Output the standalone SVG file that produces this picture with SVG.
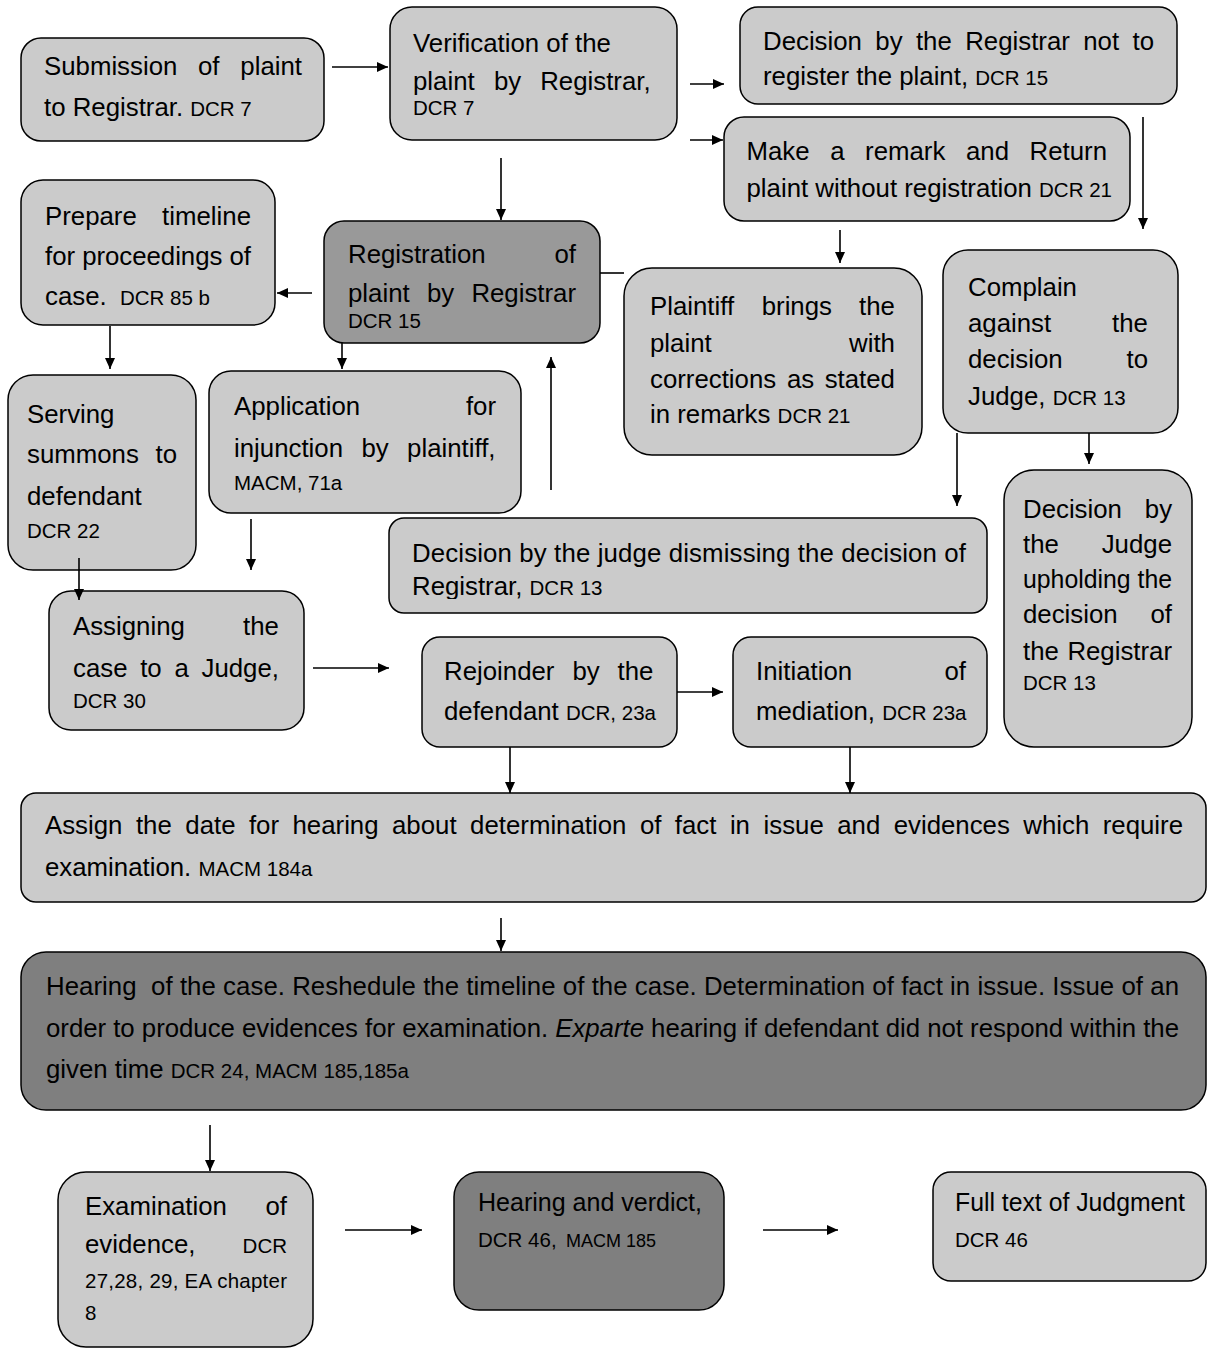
<svg xmlns="http://www.w3.org/2000/svg" width="1208" height="1349" viewBox="0 0 1208 1349">
<defs>
<style>
.box{fill:#cbcbcb;stroke:#000;stroke-width:1.5}
.mid{fill:#999999}
.dark{fill:#7f7f7f}
text{font-family:"Liberation Sans",Arial,sans-serif;font-size:25.8px;fill:#000}
.s{font-size:20.5px}
.xs{font-size:18px}
.c line{stroke:#000;stroke-width:1.6;fill:none}
</style>
<marker id="ah" markerUnits="userSpaceOnUse" markerWidth="11" markerHeight="10" refX="11" refY="5" orient="auto">
<path d="M0,0 L11,5 L0,10 z" fill="#000"/>
</marker>
<clipPath id="clipN12"><rect x="389" y="518" width="598" height="81"/></clipPath>
</defs>

<g id="n1">
<rect class="box" x="21" y="38" width="303" height="103" rx="20"/>
<text y="75"><tspan x="44">Submission</tspan><tspan x="198">of</tspan><tspan x="240.3">plaint</tspan></text>
<text x="44" y="116">to Registrar. <tspan class="s">DCR 7</tspan></text>
</g>

<g id="n2">
<rect class="box" x="390" y="7" width="287" height="133" rx="22"/>
<text x="413" y="52">Verification of the</text>
<text y="90"><tspan x="413">plaint</tspan><tspan x="493.9">by</tspan><tspan x="540.2">Registrar,</tspan></text>
<text class="s" x="413" y="115">DCR 7</text>
</g>

<g id="n3">
<rect class="box" x="740" y="7" width="437" height="97" rx="18"/>
<text y="50"><tspan x="763">Decision</tspan><tspan x="875.3">by</tspan><tspan x="915.9">the</tspan><tspan x="965.2">Registrar</tspan><tspan x="1083.2">not</tspan><tspan x="1132.5">to</tspan></text>
<text x="763" y="85">register the plaint, <tspan class="s">DCR 15</tspan></text>
</g>

<g id="n4">
<rect class="box" x="724" y="117" width="406" height="104" rx="20"/>
<text y="160"><tspan x="746.5">Make</tspan><tspan x="830.2">a</tspan><tspan x="865.1">remark</tspan><tspan x="966">and</tspan><tspan x="1029.6">Return</tspan></text>
<text x="746.5" y="197">plaint without registration <tspan class="s">DCR 21</tspan></text>
</g>

<g id="n5">
<rect class="box" x="624" y="268" width="298" height="187" rx="28"/>
<text y="315"><tspan x="650">Plaintiff</tspan><tspan x="761.7">brings</tspan><tspan x="859.1">the</tspan></text>
<text y="352"><tspan x="650">plaint</tspan><tspan x="849.1">with</tspan></text>
<text y="388"><tspan x="650">corrections</tspan><tspan x="786.9">as</tspan><tspan x="824.7">stated</tspan></text>
<text x="650" y="423">in remarks <tspan class="s">DCR 21</tspan></text>
</g>

<g id="n6">
<rect class="box" x="943" y="250" width="235" height="183" rx="25"/>
<text x="968" y="296">Complain</text>
<text y="332"><tspan x="968">against</tspan><tspan x="1112.1">the</tspan></text>
<text y="368"><tspan x="968">decision</tspan><tspan x="1126.5">to</tspan></text>
<text x="968" y="405">Judge, <tspan class="s">DCR 13</tspan></text>
</g>

<g id="n7">
<rect class="box" x="21" y="180" width="254" height="145" rx="22"/>
<text y="225"><tspan x="45">Prepare</tspan><tspan x="162.1">timeline</tspan></text>
<text x="45" y="265" textLength="206" lengthAdjust="spacing">for proceedings of</text>
<text x="45" y="305">case. <tspan class="s" x="120">DCR 85 b</tspan></text>
</g>

<g id="n8">
<rect class="box mid" x="324" y="221" width="276" height="122" rx="20"/>
<text y="263"><tspan x="348">Registration</tspan><tspan x="554.5">of</tspan></text>
<text y="302"><tspan x="348">plaint</tspan><tspan x="427">by</tspan><tspan x="471.4">Registrar</tspan></text>
<text class="s" x="348" y="328">DCR 15</text>
</g>

<g id="n9">
<rect class="box" x="8" y="375" width="188" height="195" rx="25"/>
<text x="27" y="423">Serving</text>
<text y="463"><tspan x="27">summons</tspan><tspan x="155.5">to</tspan></text>
<text x="27" y="505">defendant</text>
<text class="s" x="27" y="538">DCR 22</text>
</g>

<g id="n10">
<rect class="box" x="209" y="371" width="312" height="142" rx="22"/>
<text y="415"><tspan x="234">Application</tspan><tspan x="465.9">for</tspan></text>
<text y="457"><tspan x="234">injunction</tspan><tspan x="361.5">by</tspan><tspan x="407.1">plaintiff,</tspan></text>
<text class="s" x="234" y="490">MACM, 71a</text>
</g>

<g id="n11">
<rect class="box" x="49" y="591" width="255" height="139" rx="22"/>
<text y="635"><tspan x="73">Assigning</tspan><tspan x="243.1">the</tspan></text>
<text y="677"><tspan x="73">case</tspan><tspan x="140.2">to</tspan><tspan x="174.5">a</tspan><tspan x="201.5">Judge,</tspan></text>
<text class="s" x="73" y="708">DCR 30</text>
</g>

<g id="n12">
<rect class="box" x="389" y="518" width="598" height="95" rx="15"/>
<text x="412" y="562" textLength="554" lengthAdjust="spacing">Decision by the judge dismissing the decision of</text>
<text x="412" y="595" clip-path="url(#clipN12)">Registrar, <tspan class="s">DCR 13</tspan></text>
</g>

<g id="n13">
<rect class="box" x="1004" y="470" width="188" height="277" rx="30"/>
<text y="518"><tspan x="1023">Decision</tspan><tspan x="1144.8">by</tspan></text>
<text y="553"><tspan x="1023">the</tspan><tspan x="1101.7">Judge</tspan></text>
<text x="1023" y="588" textLength="149" lengthAdjust="spacingAndGlyphs">upholding the</text>
<text y="623"><tspan x="1023">decision</tspan><tspan x="1150.5">of</tspan></text>
<text y="660"><tspan x="1023">the</tspan><tspan x="1067.4">Registrar</tspan></text>
<text class="s" x="1023" y="690">DCR 13</text>
</g>

<g id="n14">
<rect class="box" x="422" y="637" width="255" height="110" rx="18"/>
<text y="680"><tspan x="444">Rejoinder</tspan><tspan x="572.4">by</tspan><tspan x="617.6">the</tspan></text>
<text x="444" y="720">defendant <tspan class="s">DCR, 23a</tspan></text>
</g>

<g id="n15">
<rect class="box" x="733" y="637" width="254" height="110" rx="18"/>
<text y="680"><tspan x="756">Initiation</tspan><tspan x="944.5">of</tspan></text>
<text x="756" y="720">mediation, <tspan class="s">DCR 23a</tspan></text>
</g>

<g id="n16">
<rect class="box" x="21" y="793" width="1185" height="109" rx="15"/>
<text y="834"><tspan x="45">Assign</tspan><tspan x="135.9">the</tspan><tspan x="185.3">date</tspan><tspan x="248.9">for</tspan><tspan x="292.5">hearing</tspan><tspan x="392">about</tspan><tspan x="470.1">determination</tspan><tspan x="639.9">of</tspan><tspan x="674.8">fact</tspan><tspan x="729.9">in</tspan><tspan x="763.5">issue</tspan><tspan x="837.2">and</tspan><tspan x="893.7">evidences</tspan><tspan x="1023.3">which</tspan><tspan x="1102.7">require</tspan></text>
<text x="45" y="876">examination. <tspan class="s">MACM 184a</tspan></text>
</g>

<g id="n17">
<rect class="box dark" x="21" y="952" width="1185" height="158" rx="25"/>
<text x="46" y="995" textLength="1133" lengthAdjust="spacing" xml:space="preserve">Hearing  of the case. Reshedule the timeline of the case. Determination of fact in issue. Issue of an</text>
<text x="46" y="1037" textLength="1133" lengthAdjust="spacing">order to produce evidences for examination. <tspan font-style="italic">Exparte</tspan> hearing if defendant did not respond within the</text>
<text x="46" y="1078">given time <tspan class="s">DCR 24, MACM 185,185a</tspan></text>
</g>

<g id="n18">
<rect class="box" x="58" y="1172" width="255" height="175" rx="28"/>
<text y="1215"><tspan x="85">Examination</tspan><tspan x="265.5">of</tspan></text>
<text y="1253"><tspan x="85">evidence,</tspan><tspan class="s" x="242.6">DCR</tspan></text>
<text class="s" x="85" y="1288" textLength="202" lengthAdjust="spacing">27,28, 29, EA chapter</text>
<text class="s" x="85" y="1320">8</text>
</g>

<g id="n19">
<rect class="box dark" x="454" y="1172" width="270" height="138" rx="25"/>
<text x="478" y="1211" textLength="224" lengthAdjust="spacingAndGlyphs">Hearing and verdict,</text>
<text class="s" x="478" y="1247">DCR 46, <tspan class="xs" x="566">MACM 185</tspan></text>
</g>

<g id="n20">
<rect class="box" x="933" y="1172" width="273" height="109" rx="18"/>
<text x="955" y="1211" textLength="230" lengthAdjust="spacingAndGlyphs">Full text of Judgment</text>
<text class="s" x="955" y="1247">DCR 46</text>
</g>

<g id="connectors" class="c">
<line x1="332" y1="67" x2="388" y2="67" marker-end="url(#ah)"/>
<line x1="690" y1="84" x2="724" y2="84" marker-end="url(#ah)"/>
<line x1="690" y1="140" x2="723" y2="140" marker-end="url(#ah)"/>
<line x1="501" y1="158" x2="501" y2="220" marker-end="url(#ah)"/>
<line x1="1143" y1="117" x2="1143" y2="229" marker-end="url(#ah)"/>
<line x1="840" y1="230" x2="840" y2="263" marker-end="url(#ah)"/>
<line x1="600" y1="273" x2="624" y2="273"/>
<line x1="312" y1="293" x2="277" y2="293" marker-end="url(#ah)"/>
<line x1="110" y1="326" x2="110" y2="369" marker-end="url(#ah)"/>
<line x1="342" y1="343" x2="342" y2="369" marker-end="url(#ah)"/>
<line x1="551" y1="490" x2="551" y2="357" marker-end="url(#ah)"/>
<line x1="251" y1="519" x2="251" y2="570" marker-end="url(#ah)"/>
<line x1="79" y1="558" x2="79" y2="600" marker-end="url(#ah)"/>
<line x1="957" y1="433" x2="957" y2="506" marker-end="url(#ah)"/>
<line x1="1089" y1="433" x2="1089" y2="464" marker-end="url(#ah)"/>
<line x1="313" y1="668" x2="389" y2="668" marker-end="url(#ah)"/>
<line x1="677" y1="692" x2="723" y2="692" marker-end="url(#ah)"/>
<line x1="510" y1="747" x2="510" y2="793" marker-end="url(#ah)"/>
<line x1="850" y1="747" x2="850" y2="793" marker-end="url(#ah)"/>
<line x1="501" y1="918" x2="501" y2="951" marker-end="url(#ah)"/>
<line x1="210" y1="1125" x2="210" y2="1171" marker-end="url(#ah)"/>
<line x1="345" y1="1230" x2="422" y2="1230" marker-end="url(#ah)"/>
<line x1="763" y1="1230" x2="838" y2="1230" marker-end="url(#ah)"/>
</g>
</svg>
